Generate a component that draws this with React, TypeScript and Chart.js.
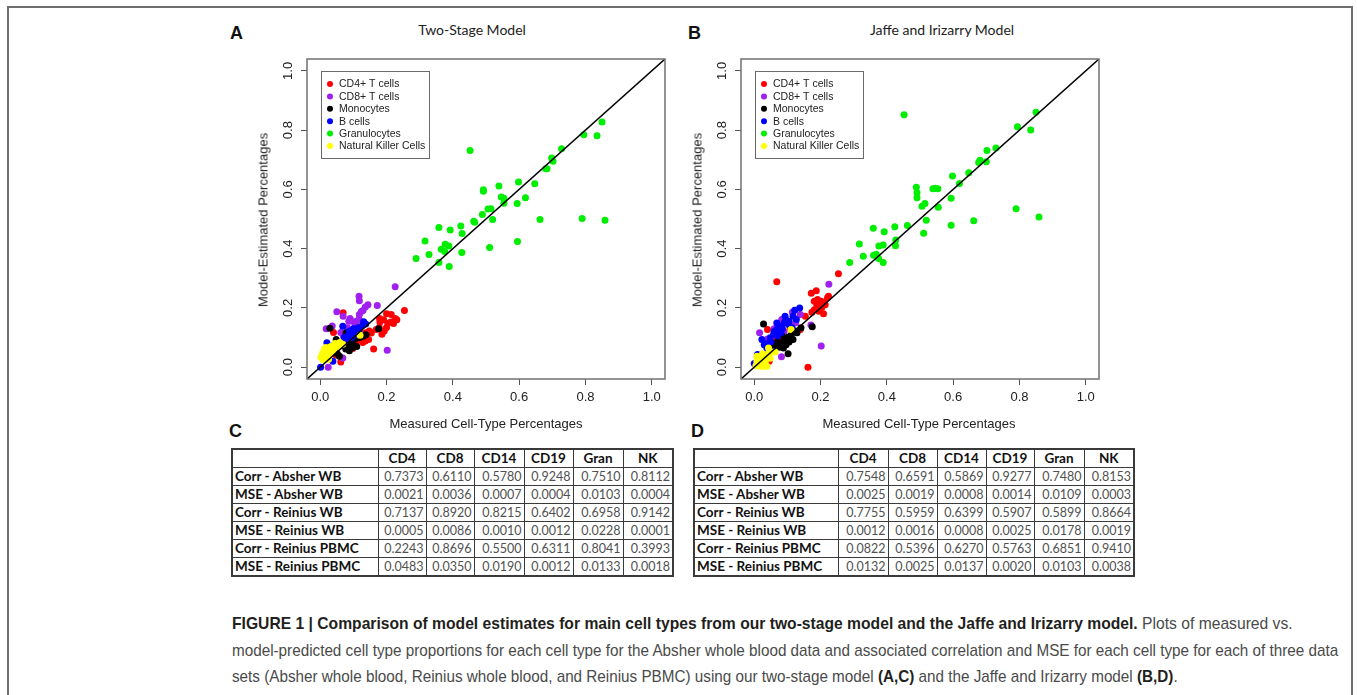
import React, { useEffect, useLayoutEffect, useRef } from 'react';
import { Chart, registerables } from 'chart.js';

Chart.register(...registerables);

// ---------- data ----------
const cellTypes = ['CD4+ T cells', 'CD8+ T cells', 'Monocytes', 'B cells', 'Granulocytes', 'Natural Killer Cells'];
const cellColors = ['#ff0000', '#a020f0', '#000000', '#0000ff', '#00ee00', '#ffff00'];
const axisTicks = [0, 0.2, 0.4, 0.6, 0.8, 1.0];
const axisMin = -0.04;
const axisMax = 1.04;
const identityLine = [[-0.04, -0.04], [1.04, 1.04]];

// Two-Stage model (panel A): [measured, estimated]
const twoStageCD4 = [
  [0.254, 0.191], [0.069, 0.184], [0.179, 0.164], [0.2, 0.18], [0.214, 0.178], [0.226, 0.164], [0.231, 0.16],
  [0.221, 0.147], [0.204, 0.148], [0.191, 0.16], [0.18, 0.152], [0.213, 0.152], [0.178, 0.134], [0.2, 0.134],
  [0.193, 0.122], [0.186, 0.111], [0.169, 0.127], [0.154, 0.115], [0.137, 0.116], [0.146, 0.093], [0.136, 0.088],
  [0.161, 0.061], [0.062, 0.017], [0.04, 0.117], [0.117, 0.135], [0.11, 0.088], [0.098, 0.063], [0.058, 0.076],
  [0.04, 0.053], [0.148, 0.122], [0.128, 0.083], [0.118, 0.095], [0.085, 0.07], [0.048, 0.04]
];
const twoStageCD8 = [
  [0.226, 0.271], [0.117, 0.239], [0.118, 0.224], [0.144, 0.211], [0.136, 0.203], [0.172, 0.208], [0.124, 0.188],
  [0.129, 0.191], [0.05, 0.187], [0.069, 0.172], [0.09, 0.164], [0.086, 0.155], [0.109, 0.155], [0.117, 0.162],
  [0.018, 0.13], [0.036, 0.139], [0.082, 0.133], [0.07, 0.108], [0.068, 0.031], [0.024, 0.0], [0.202, 0.057],
  [0.105, 0.144], [0.098, 0.112], [0.062, 0.117], [0.118, 0.178], [0.093, 0.156]
];
const twoStageMono = [
  [0.029, 0.131], [0.176, 0.13], [0.078, 0.116], [0.138, 0.109], [0.119, 0.1], [0.129, 0.104], [0.096, 0.08],
  [0.09, 0.074], [0.083, 0.083], [0.072, 0.077], [0.062, 0.072], [0.052, 0.068], [0.042, 0.072], [0.098, 0.066],
  [0.088, 0.055], [0.077, 0.061], [0.052, 0.044], [0.058, 0.037], [0.048, 0.093], [0.038, 0.071], [0.105, 0.095],
  [0.11, 0.07]
];
const twoStageB = [
  [0.131, 0.153], [0.137, 0.146], [0.068, 0.138], [0.114, 0.133], [0.118, 0.126], [0.128, 0.142], [0.113, 0.13],
  [0.103, 0.119], [0.093, 0.111], [0.083, 0.105], [0.072, 0.1], [0.088, 0.122], [0.1, 0.13], [0.08, 0.095],
  [0.095, 0.1], [0.075, 0.09], [0.02, 0.082], [0.028, 0.065], [0.001, 0.0], [0.038, 0.02], [0.108, 0.11]
];
const twoStageGran = [
  [0.85, 0.827], [0.795, 0.784], [0.835, 0.781], [0.452, 0.731], [0.728, 0.737], [0.698, 0.706], [0.702, 0.695],
  [0.68, 0.67], [0.684, 0.67], [0.598, 0.625], [0.647, 0.619], [0.539, 0.611], [0.492, 0.599], [0.492, 0.594],
  [0.546, 0.574], [0.554, 0.57], [0.619, 0.572], [0.554, 0.553], [0.594, 0.552], [0.506, 0.534], [0.515, 0.535],
  [0.489, 0.515], [0.52, 0.498], [0.463, 0.492], [0.466, 0.489], [0.663, 0.498], [0.79, 0.502], [0.859, 0.496],
  [0.358, 0.471], [0.424, 0.476], [0.392, 0.463], [0.428, 0.451], [0.316, 0.426], [0.595, 0.424], [0.377, 0.415],
  [0.388, 0.409], [0.365, 0.398], [0.375, 0.39], [0.511, 0.404], [0.328, 0.38], [0.427, 0.387], [0.289, 0.367],
  [0.358, 0.353], [0.389, 0.34]
];
const twoStageNK = [
  [0.012, 0.061], [0.007, 0.047], [0.005, 0.036], [0.009, 0.025], [0.017, 0.033], [0.027, 0.044], [0.037, 0.055],
  [0.042, 0.063], [0.032, 0.07], [0.022, 0.058], [0.052, 0.077], [0.059, 0.083], [0.047, 0.072], [0.017, 0.066],
  [0.025, 0.027], [0.002, 0.033], [0.068, 0.077], [0.12, 0.108], [0.015, 0.05], [0.03, 0.05], [0.045, 0.08],
  [0.01, 0.04], [0.055, 0.07]
];

// Jaffe and Irizarry model (panel B): [measured, estimated]
const jaffeCD4 = [
  [0.254, 0.315], [0.068, 0.288], [0.187, 0.258], [0.172, 0.249], [0.181, 0.222], [0.191, 0.228], [0.201, 0.222],
  [0.211, 0.22], [0.221, 0.234], [0.224, 0.239], [0.214, 0.211], [0.204, 0.202], [0.189, 0.209], [0.181, 0.194],
  [0.174, 0.185], [0.195, 0.189], [0.209, 0.18], [0.199, 0.2], [0.154, 0.172], [0.162, 0.0], [0.04, 0.127],
  [0.139, 0.127], [0.108, 0.132], [0.03, 0.04], [0.045, 0.02], [0.125, 0.118], [0.06, 0.1], [0.085, 0.095]
];
const jaffeCD8 = [
  [0.225, 0.28], [0.115, 0.185], [0.016, 0.116], [0.083, 0.161], [0.098, 0.155], [0.139, 0.178], [0.202, 0.071],
  [0.082, 0.035], [0.171, 0.142], [0.125, 0.15], [0.06, 0.13], [0.11, 0.14], [0.09, 0.12], [0.04, 0.095]
];
const jaffeMono = [
  [0.028, 0.146], [0.175, 0.136], [0.141, 0.133], [0.129, 0.116], [0.124, 0.122], [0.111, 0.108], [0.101, 0.101],
  [0.09, 0.09], [0.08, 0.082], [0.068, 0.076], [0.058, 0.074], [0.043, 0.071], [0.096, 0.076], [0.088, 0.065],
  [0.102, 0.045], [0.076, 0.067], [0.117, 0.093], [0.083, 0.108], [0.07, 0.085], [0.095, 0.095], [0.06, 0.08],
  [0.105, 0.085]
];
const jaffeB = [
  [0.137, 0.2], [0.122, 0.192], [0.093, 0.172], [0.117, 0.172], [0.127, 0.161], [0.09, 0.149], [0.078, 0.138],
  [0.068, 0.127], [0.058, 0.11], [0.048, 0.099], [0.023, 0.093], [0.03, 0.076], [0.038, 0.065], [0.068, 0.149],
  [0.104, 0.144], [0.08, 0.116], [0.114, 0.133], [0.0, 0.012], [0.01, 0.043], [0.095, 0.16], [0.085, 0.13],
  [0.06, 0.12], [0.05, 0.085], [0.07, 0.105], [0.105, 0.155], [0.04, 0.08]
];
const jaffeGran = [
  [0.85, 0.86], [0.794, 0.811], [0.834, 0.8], [0.452, 0.852], [0.729, 0.74], [0.702, 0.731], [0.681, 0.698],
  [0.677, 0.691], [0.7, 0.693], [0.647, 0.656], [0.598, 0.645], [0.619, 0.62], [0.489, 0.607], [0.491, 0.589],
  [0.491, 0.572], [0.539, 0.602], [0.546, 0.604], [0.554, 0.602], [0.594, 0.57], [0.515, 0.552], [0.506, 0.543],
  [0.555, 0.54], [0.519, 0.496], [0.462, 0.478], [0.424, 0.474], [0.359, 0.469], [0.392, 0.457], [0.511, 0.452],
  [0.427, 0.429], [0.662, 0.494], [0.594, 0.479], [0.79, 0.535], [0.859, 0.507], [0.317, 0.416], [0.376, 0.409],
  [0.389, 0.412], [0.426, 0.41], [0.36, 0.378], [0.368, 0.381], [0.329, 0.374], [0.375, 0.367], [0.288, 0.353],
  [0.389, 0.353]
];
const jaffeNK = [
  [0.111, 0.127], [0.063, 0.051], [0.008, 0.02], [0.013, 0.009], [0.018, 0.003], [0.028, 0.003], [0.038, 0.003],
  [0.018, 0.026], [0.028, 0.031], [0.038, 0.037], [0.046, 0.048], [0.023, 0.015], [0.033, 0.02], [0.008, 0.037],
  [0.043, 0.065], [0.025, 0.045], [0.015, 0.03], [0.033, 0.01], [0.048, 0.03], [0.005, 0.005]
];

// tables C and D
const tableColumns = ['CD4', 'CD8', 'CD14', 'CD19', 'Gran', 'NK'];
const tableRowLabels = ['Corr - Absher WB', 'MSE - Absher WB', 'Corr - Reinius WB', 'MSE - Reinius WB', 'Corr - Reinius PBMC', 'MSE - Reinius PBMC'];
const twoStageStats = [
  [0.7373, 0.6110, 0.5780, 0.9248, 0.7510, 0.8112],
  [0.0021, 0.0036, 0.0007, 0.0004, 0.0103, 0.0004],
  [0.7137, 0.8920, 0.8215, 0.6402, 0.6958, 0.9142],
  [0.0005, 0.0086, 0.0010, 0.0012, 0.0228, 0.0001],
  [0.2243, 0.8696, 0.5500, 0.6311, 0.8041, 0.3993],
  [0.0483, 0.0350, 0.0190, 0.0012, 0.0133, 0.0018]
];
const jaffeStats = [
  [0.7548, 0.6591, 0.5869, 0.9277, 0.7480, 0.8153],
  [0.0025, 0.0019, 0.0008, 0.0014, 0.0109, 0.0003],
  [0.7755, 0.5959, 0.6399, 0.5907, 0.5899, 0.8664],
  [0.0012, 0.0016, 0.0008, 0.0025, 0.0178, 0.0019],
  [0.0822, 0.5396, 0.6270, 0.5763, 0.6851, 0.9410],
  [0.0132, 0.0025, 0.0137, 0.0020, 0.0103, 0.0038]
];

// ---------- chart ----------
const SANS = '"Liberation Sans", Arial, Helvetica, sans-serif';

const rPlotPlugin = {
  id: 'rPlot',
  afterDraw(chart: any) {
    const { ctx, chartArea: a, scales } = chart;
    ctx.save();
    ctx.strokeStyle = '#707070';
    ctx.lineWidth = 1.5;
    ctx.strokeRect(a.left, a.top, a.right - a.left, a.bottom - a.top);
    const ys = scales.y;
    ctx.fillStyle = '#222';
    ctx.font = '13px ' + SANS;
    ctx.textAlign = 'center';
    ctx.textBaseline = 'middle';
    ys.ticks.forEach((t: any) => {
      const py = ys.getPixelForValue(t.value);
      ctx.save();
      ctx.translate(a.left - 19, py);
      ctx.rotate(-Math.PI / 2);
      ctx.fillText(Number(t.value).toFixed(1), 0, 0);
      ctx.restore();
    });
    const lx = a.left + 14;
    const ly = a.top + 12;
    const lw = 108;
    const lh = 87;
    ctx.fillStyle = '#fff';
    ctx.fillRect(lx, ly, lw, lh);
    ctx.strokeStyle = '#6a6a6a';
    ctx.lineWidth = 1;
    ctx.strokeRect(lx + 0.5, ly + 0.5, lw, lh);
    ctx.font = '10.5px ' + SANS;
    ctx.textAlign = 'left';
    ctx.textBaseline = 'middle';
    cellTypes.forEach((name, i) => {
      const cy = ly + 13 + i * 12.4;
      ctx.fillStyle = cellColors[i];
      ctx.beginPath();
      ctx.arc(lx + 9, cy, 3, 0, Math.PI * 2);
      ctx.fill();
      ctx.fillStyle = '#222';
      ctx.fillText(name, lx + 18, cy + 0.5);
    });
    ctx.restore();
  }
};

function makeScale(axis: 'x' | 'y') {
  return {
    type: 'linear',
    position: axis === 'x' ? 'bottom' : 'left',
    min: axisMin,
    max: axisMax,
    afterBuildTicks: (s: any) => {
      s.ticks = axisTicks.map((v) => ({ value: v }));
    },
    afterFit: (s: any) => {
      if (axis === 'x') s.height = 61;
      else s.width = 82;
    },
    grid: { drawOnChartArea: false, drawTicks: true, tickLength: 6, color: '#555', lineWidth: 1 },
    border: { display: false },
    ticks: {
      display: axis === 'x',
      autoSkip: false,
      maxRotation: 0,
      padding: 5,
      color: '#222',
      font: { family: SANS, size: 13 },
      callback: (v: any) => Number(v).toFixed(1)
    }
  };
}

function ScatterPanel({ left, top, series }: { left: number; top: number; series: number[][][] }) {
  const ref = useRef<HTMLCanvasElement>(null);
  useEffect(() => {
    const datasets: any[] = series.map((pts, i) => ({
      label: cellTypes[i],
      data: pts.map(([x, y]) => ({ x, y })),
      backgroundColor: cellColors[i],
      borderWidth: 0,
      pointRadius: 3.5,
      pointHoverRadius: 3.5,
      order: series.length - i
    }));
    datasets.push({
      label: 'identity',
      data: identityLine.map(([x, y]) => ({ x, y })),
      showLine: true,
      borderColor: '#000',
      borderWidth: 1.5,
      pointRadius: 0,
      order: 0
    });
    const chart = new Chart(ref.current as HTMLCanvasElement, {
      type: 'scatter',
      data: { datasets },
      options: {
        animation: false,
        responsive: false,
        maintainAspectRatio: false,
        layout: { padding: { left: 0, right: 20, top: 19, bottom: 0 } },
        plugins: { legend: { display: false }, tooltip: { enabled: false } },
        scales: { x: makeScale('x'), y: makeScale('y') } as any
      },
      plugins: [rPlotPlugin]
    } as any);
    return () => chart.destroy();
  }, []);
  return (
    <canvas
      ref={ref}
      width={460}
      height={400}
      style={{ position: 'absolute', left, top, width: 460, height: 400 }}
    />
  );
}

// ---------- tables ----------
function StatsTable({ left, top, colWidths, values }: { left: number; top: number; colWidths: number[]; values: number[][] }) {
  const total = colWidths.reduce((s, w) => s + w, 0);
  const cell: React.CSSProperties = {
    border: '1px solid #3a3a3a',
    padding: '0 2px',
    height: 17,
    lineHeight: '17px',
    whiteSpace: 'nowrap',
    overflow: 'hidden',
    boxSizing: 'border-box'
  };
  return (
    <table
      style={{
        position: 'absolute',
        left,
        top,
        width: total,
        borderCollapse: 'collapse',
        tableLayout: 'fixed',
        border: '2px solid #3a3a3a',
        fontFamily: 'Lato, "Open Sans", sans-serif',
        fontSize: 13,
        color: '#111'
      }}
    >
      <colgroup>
        {colWidths.map((w, i) => (
          <col key={i} style={{ width: w }} />
        ))}
      </colgroup>
      <tbody>
        <tr>
          <td style={cell} />
          {tableColumns.map((c) => (
            <td key={c} style={{ ...cell, fontWeight: 700, textAlign: 'center', fontSize: 13.5 }}>
              {c}
            </td>
          ))}
        </tr>
        {tableRowLabels.map((r, i) => (
          <tr key={r}>
            <td style={{ ...cell, fontWeight: 700, textAlign: 'left', paddingLeft: 2, fontSize: 13.5 }}>{r}</td>
            {values[i].map((v, j) => (
              <td key={j} style={{ ...cell, textAlign: 'right', color: '#505050', fontSize: 12.5 }}>
                {v.toFixed(4)}
              </td>
            ))}
          </tr>
        ))}
      </tbody>
    </table>
  );
}

// ---------- page ----------
const letterStyle: React.CSSProperties = {
  position: 'absolute',
  fontFamily: SANS,
  fontWeight: 700,
  fontSize: 18,
  lineHeight: '18px',
  color: '#111'
};
const plotTitleStyle: React.CSSProperties = {
  position: 'absolute',
  fontFamily: 'Lato, "Open Sans", sans-serif',
  fontSize: 14,
  lineHeight: '16px',
  color: '#222',
  transform: 'translate(-50%, -50%)',
  whiteSpace: 'nowrap'
};
const axisTitleStyle: React.CSSProperties = {
  position: 'absolute',
  fontFamily: SANS,
  fontSize: 13,
  lineHeight: '15px',
  color: '#222',
  whiteSpace: 'nowrap'
};

// caption line widths measured on the reference (line 3 follows line 2's scale)
const captionTargets = [1061, 1106];

export default function App() {
  const lineRefs = useRef<(HTMLDivElement | null)[]>([]);
  useLayoutEffect(() => {
    const els = lineRefs.current;
    let bodyScale = 1;
    els.forEach((el, i) => {
      if (!el) return;
      el.style.transform = 'none';
      const w = el.scrollWidth;
      let s = bodyScale;
      if (i < captionTargets.length && w > 0) s = captionTargets[i] / w;
      if (i === 1) bodyScale = s;
      el.style.transform = `scaleX(${s})`;
    });
    if (els[2]) els[2].style.transform = `scaleX(${bodyScale})`;
  }, []);

  const captionLine: React.CSSProperties = {
    position: 'absolute',
    left: 232,
    whiteSpace: 'nowrap',
    transformOrigin: '0 50%',
    fontFamily: '"Liberation Sans Narrow", "Arial Narrow", "Liberation Sans", Arial, sans-serif',
    fontSize: 17,
    lineHeight: '20px',
    color: '#4a4a4a'
  };
  const bold: React.CSSProperties = { fontWeight: 700, color: '#231f20' };

  return (
    <div
      style={{
        position: 'absolute',
        left: 0,
        top: 0,
        width: 1357,
        height: 695,
        overflow: 'hidden',
        background: '#fff'
      }}
    >
      <div
        style={{
          position: 'absolute',
          left: 7,
          top: 6,
          width: 1346,
          height: 760,
          border: '2px solid #6e6e6e',
          boxSizing: 'border-box'
        }}
      />

      <div style={{ ...letterStyle, left: 230, top: 24 }}>A</div>
      <div style={{ ...letterStyle, left: 688, top: 24 }}>B</div>
      <div style={{ ...letterStyle, left: 229, top: 422 }}>C</div>
      <div style={{ ...letterStyle, left: 691, top: 422 }}>D</div>

      <div style={{ ...plotTitleStyle, left: 472, top: 30 }}>Two-Stage Model</div>
      <div style={{ ...plotTitleStyle, left: 942, top: 30 }}>Jaffe and Irizarry Model</div>

      <ScatterPanel
        left={225}
        top={40}
        series={[twoStageCD4, twoStageCD8, twoStageMono, twoStageB, twoStageGran, twoStageNK]}
      />
      <ScatterPanel
        left={659}
        top={40}
        series={[jaffeCD4, jaffeCD8, jaffeMono, jaffeB, jaffeGran, jaffeNK]}
      />

      <div style={{ ...axisTitleStyle, left: 486, top: 423, transform: 'translate(-50%, -50%)' }}>
        Measured Cell-Type Percentages
      </div>
      <div style={{ ...axisTitleStyle, left: 919, top: 423, transform: 'translate(-50%, -50%)' }}>
        Measured Cell-Type Percentages
      </div>
      <div style={{ ...axisTitleStyle, left: 263, top: 220, transform: 'translate(-50%, -50%) rotate(-90deg)' }}>
        Model-Estimated Percentages
      </div>
      <div style={{ ...axisTitleStyle, left: 697, top: 220, transform: 'translate(-50%, -50%) rotate(-90deg)' }}>
        Model-Estimated Percentages
      </div>

      <StatsTable left={231} top={448} colWidths={[146, 48, 48, 50, 49, 50, 50]} values={twoStageStats} />
      <StatsTable left={693} top={448} colWidths={[144, 50, 49, 49, 48, 50, 50]} values={jaffeStats} />

      <div ref={(el) => { lineRefs.current[0] = el; }} style={{ ...captionLine, top: 614 }}>
        <span style={bold}>
          FIGURE 1 | Comparison of model estimates for main cell types from our two-stage model and the Jaffe and Irizarry model.
        </span>{' '}
        Plots of measured vs.
      </div>
      <div ref={(el) => { lineRefs.current[1] = el; }} style={{ ...captionLine, top: 641 }}>
        model-predicted cell type proportions for each cell type for the Absher whole blood data and associated correlation and MSE for each cell type for each of three data
      </div>
      <div ref={(el) => { lineRefs.current[2] = el; }} style={{ ...captionLine, top: 667 }}>
        sets (Absher whole blood, Reinius whole blood, and Reinius PBMC) using our two-stage model <span style={bold}>(A,C)</span> and the Jaffe and Irizarry model <span style={bold}>(B,D)</span>.
      </div>
    </div>
  );
}
